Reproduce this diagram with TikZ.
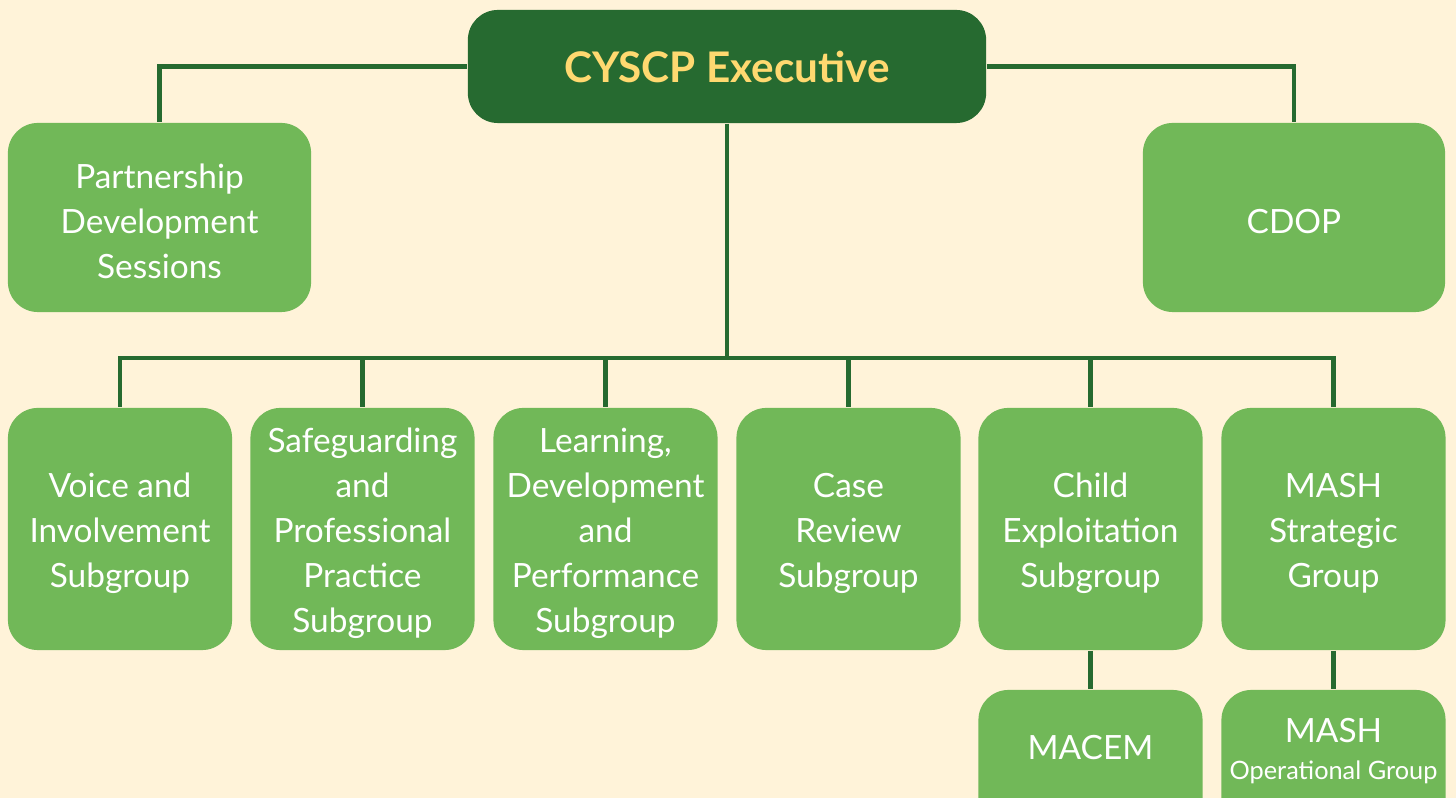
\documentclass[tikz,border=0pt]{standalone}
\usepackage{fontspec}
\setmainfont{Lato}
\usetikzlibrary{positioning}
\definecolor{cream}{HTML}{FFF3D9}
\definecolor{leaf}{HTML}{71B858}
\definecolor{pine}{HTML}{266A30}
\definecolor{gold}{HTML}{FFD970}

\begin{document}
\begin{tikzpicture}[x=0.01cm,y=-0.01cm,
  leafbox/.style={fill=leaf,rounded corners=0.3cm,inner sep=0pt,minimum width=2.24cm,minimum height=2.42cm},
  boxtext/.style={text=white,align=center,font=\fontsize{9.5}{12.8}\selectfont},
  box/.style={leafbox,label={[boxtext,yshift=-0.04cm]center:#1}},
  link/.style={draw=pine,line width=1.4pt}]
  \fill[cream] (0,0) rectangle (1456,798);
  \useasboundingbox (0,0) rectangle (1456,798);

  % top level
  \node[fill=pine,text=gold,rounded corners=0.3cm,minimum width=5.18cm,minimum height=1.13cm,
    font=\fontsize{12}{14}\selectfont\bfseries] (exec) at (727,66.5) {CYSCP Executive};
  \node[box={Partnership\\Development\\Sessions},minimum width=3.03cm,minimum height=1.89cm] (pds) at (159.5,217.5) {};
  \node[box=CDOP,minimum width=3.02cm,minimum height=1.89cm] (cdop) at (1294,217.5) {};
  \coordinate (bar) at (727,358);

  % subgroups
  \node[box={Voice and\\Involvement\\Subgroup}] (voice) at (120,529) {};
  \node[box={Safeguarding\\and\\Professional\\Practice\\Subgroup}] (spp) at (362.5,529) {};
  \node[box={Learning,\\Development\\and\\Performance\\Subgroup}] (ldp) at (605.5,529) {};
  \node[box={Case\\Review\\Subgroup}] (crs) at (848.5,529) {};
  \node[box={Child\\Exploitation\\Subgroup}] (ces) at (1090.5,529) {};
  \node[box={MASH\\Strategic\\Group}] (mash) at (1333.5,529) {};

  % groups under subgroups (run off the page)
  \node[leafbox,minimum height=1.4cm,label={[boxtext,yshift=0.12cm]center:MACEM}] (macem) at (1090.5,760) {};
  \node[leafbox,minimum height=1.4cm,
    label={[boxtext,yshift=0.09cm]center:MASH\\[-2.5pt]{\fontsize{7.2}{8}\selectfont Operational Group}}] (mog) at (1333.5,760) {};

  \draw[link] (exec.west) -| (pds.north);
  \draw[link] (exec.east) -| (cdop.north);
  \draw[link] (exec.south) -- (bar);
  \foreach \n in {voice,spp,ldp,crs,ces,mash}
    \draw[link] (bar) -| (\n.north);
  \draw[link] (ces.south) -- (macem.north);
  \draw[link] (mash.south) -- (mog.north);
\end{tikzpicture}
\end{document}
